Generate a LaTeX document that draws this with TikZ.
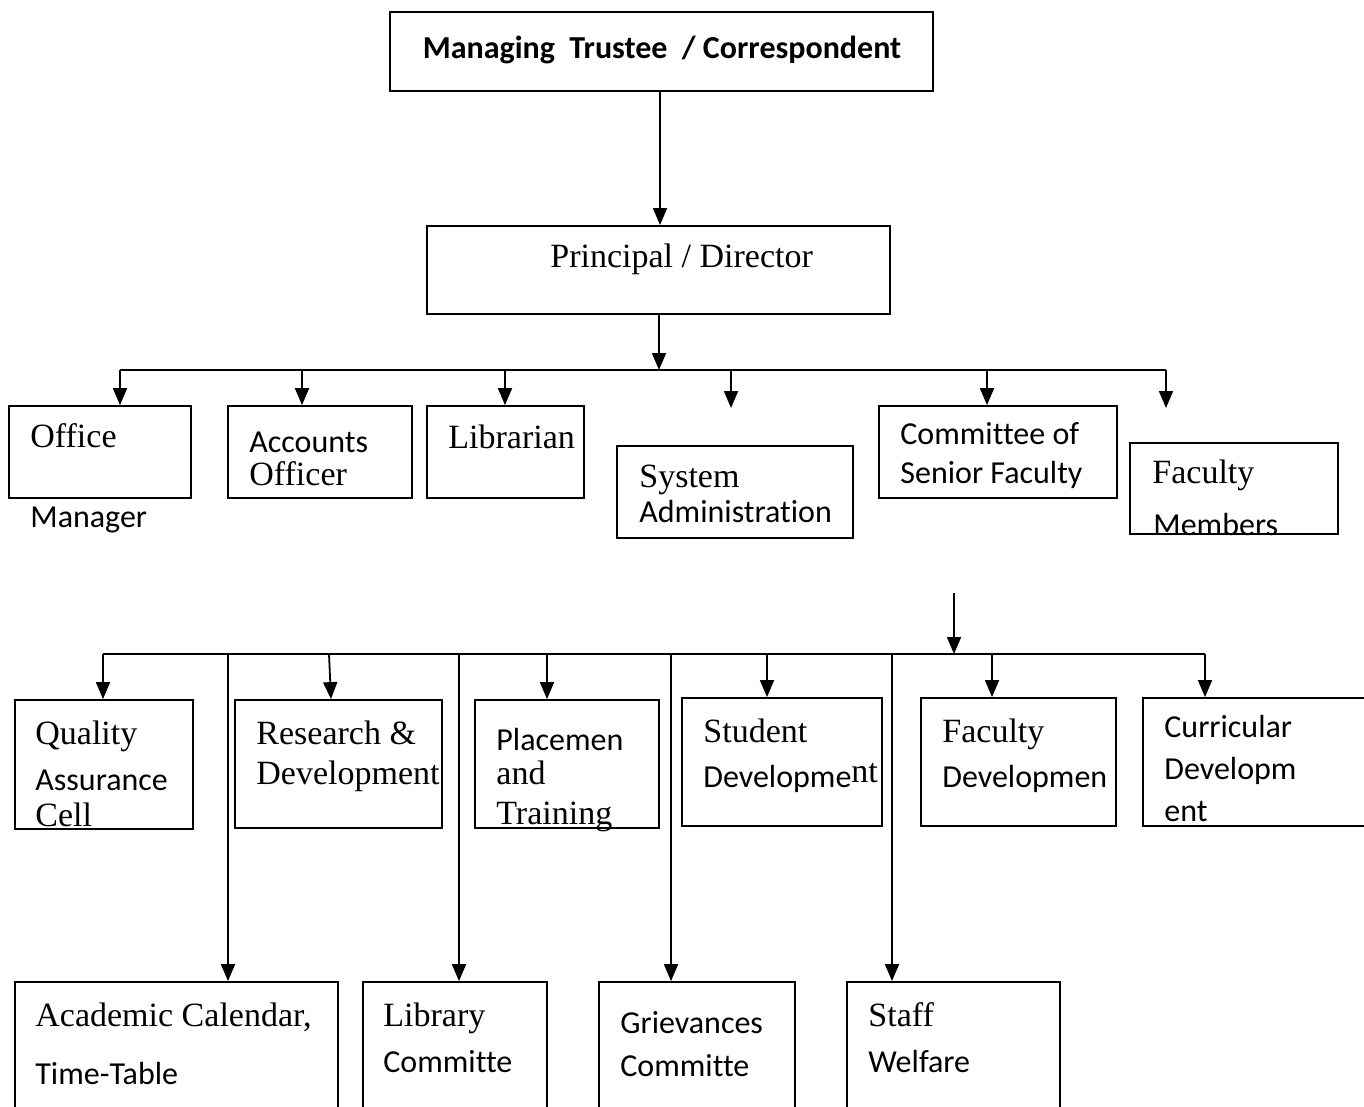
\documentclass[tikz,border=0pt]{standalone}
\usepackage{fontspec}
\setmainfont{Liberation Serif}
\newfontfamily\calfont[Ligatures=NoCommon]{Carlito}
\usetikzlibrary{fit,arrows.meta}
\begin{document}
\begin{tikzpicture}[x=0.5pt,y=-0.5pt,
  box/.style={draw,line width=0.9pt,inner sep=0pt,rectangle},
  arr/.style={line width=0.9pt,-{Triangle[width=7pt,length=8.5pt]}},
  conn/.style={line width=0.9pt},
  serif/.style={inner sep=0pt,anchor=base west,font=\fontsize{17}{20}\selectfont},
  sans/.style={inner sep=0pt,anchor=base west,font=\calfont\fontsize{16}{19}\selectfont}]
\useasboundingbox (0,0) rectangle (1364,1107);
% boxes
\node[box,fit={(390,12) (933,91)}] (top) {};
\node[box,fit={(427,226) (890,314)}] (principal) {};
\node[box,fit={(9,406) (191,498)}] (office) {};
\node[box,fit={(228,406) (412,498)}] (accounts) {};
\node[box,fit={(427,406) (584,498)}] (librarian) {};
\node[box,fit={(617,446) (853,538)}] (sysadmin) {};
\node[box,fit={(879,406) (1117,498)}] (committee) {};
\node[box,fit={(1130,443) (1338,534)}] (facmem) {};
\node[box,fit={(15,700) (193,829)}] (qac) {};
\node[box,fit={(235,700) (442,828)}] (rnd) {};
\node[box,fit={(475,700) (659,828)}] (place) {};
\node[box,fit={(682,698) (882,826)}] (student) {};
\node[box,fit={(921,698) (1116,826)}] (facdev) {};
\node[box,fit={(1143,698) (1400,826)}] (curr) {};
\node[box,fit={(15,982) (338,1140)}] (acad) {};
\node[box,fit={(363,982) (547,1140)}] (libc) {};
\node[box,fit={(599,982) (795,1140)}] (griev) {};
\node[box,fit={(847,982) (1060,1140)}] (staff) {};
% texts
\node[inner sep=0pt,anchor=base,font=\calfont\bfseries\fontsize{16}{19}\selectfont] (ttop) at (662,59) {Managing\ \ Trustee\ \ / Correspondent};
\node[serif] (tprin) at (550,267) {Principal / Director};
\node[serif] (toff) at (30,447) {Office};
\node[sans] (tman) at (30,527) {Manager};
\node[sans] (tacc1) at (249,452) {Accounts};
\node[serif] (tacc2) at (249,485) {Officer};
\node[serif] (tlib) at (448,448) {Librarian};
\node[serif] (tsys1) at (639,487) {System};
\node[sans] (tsys2) at (639,522) {Administration};
\node[sans] (tcom1) at (900,444) {Committee of};
\node[sans] (tcom2) at (900,483) {Senior Faculty};
\node[serif] (tfm1) at (1152,483) {Faculty};
\node[sans] (tfm2) at (1153,535) {Members};
\node[serif] (tq1) at (35,744) {Quality};
\node[sans] (tq2) at (35,790) {Assurance};
\node[serif] (tq3) at (35,826) {Cell};
\node[serif] (tr1) at (256,744) {Research \&};
\node[serif] (tr2) at (256,784) {Development};
\node[sans] (tp1) at (496,750) {Placemen};
\node[serif] (tp2) at (496,784) {and};
\node[serif] (tp3) at (496,824) {Training};
\node[serif] (ts1) at (703,742) {Student};
\node[sans] (ts2) at (703,787) {Developme{\rmfamily\fontsize{17}{20}\selectfont\raisebox{2.5pt}{nt}}};
\node[serif] (tf1) at (942,742) {Faculty};
\node[sans] (tf2) at (942,787) {Developmen};
\node[sans] (tc1) at (1164,737) {Curricular};
\node[sans] (tc2) at (1164,779) {Developm};
\node[sans] (tc3) at (1164,821) {ent};
\node[serif] (ta1) at (35,1026) {Academic Calendar,};
\node[sans] (ta2) at (35,1084) {Time-Table};
\node[serif] (tl1) at (383,1026) {Library};
\node[sans] (tl2) at (383,1072) {Committe};
\node[sans] (tg1) at (620,1033) {Grievances};
\node[sans] (tg2) at (620,1076) {Committe};
\node[serif] (tw1) at (868,1026) {Staff};
\node[sans] (tw2) at (868,1072) {Welfare};
% first-level connectors
\coordinate (a0) at (660,91);
\draw[arr] (a0) -- (a0 |- principal.north);
\coordinate (bus1) at (659,370);
\draw[arr] (bus1 |- principal.south) -- (bus1);
\coordinate (b1) at (120,370);
\coordinate (b2) at (302,370);
\coordinate (b3) at (505,370);
\coordinate (b4) at (731,370);
\coordinate (b5) at (987,370);
\coordinate (b6) at (1166,370);
\draw[conn] (b1) -- (b6);
\draw[arr] (b1) -- (b1 |- office.north);
\draw[arr] (b2) -- (b2 |- accounts.north);
\draw[arr] (b3) -- (b3 |- librarian.north);
\coordinate (sysend) at (731,408);
\draw[arr] (b4) -- (sysend);
\draw[arr] (b5) -- (b5 |- committee.north);
\coordinate (fmend) at (1166,408);
\draw[arr] (b6) -- (fmend);
% second-level connectors
\coordinate (c0s) at (954,593);
\coordinate (c0) at (954,654);
\draw[arr] (c0s) -- (c0);
\coordinate (c1) at (103,654);
\coordinate (c2) at (329,654);
\coordinate (c3) at (547,654);
\coordinate (c4) at (767,654);
\coordinate (c5) at (992,654);
\coordinate (c6) at (1205,654);
\coordinate (d1) at (228,654);
\coordinate (d2) at (459,654);
\coordinate (d3) at (671,654);
\coordinate (d4) at (892,654);
\draw[conn] (c1) -- (c6);
\draw[arr] (c1) -- (c1 |- qac.north);
\draw[arr] (c2) -- (331,0 |- rnd.north);
\draw[arr] (c3) -- (c3 |- place.north);
\draw[arr] (c4) -- (c4 |- student.north);
\draw[arr] (c5) -- (c5 |- facdev.north);
\draw[arr] (c6) -- (c6 |- curr.north);
\draw[arr] (d1) -- (d1 |- acad.north);
\draw[arr] (d2) -- (d2 |- libc.north);
\draw[arr] (d3) -- (d3 |- griev.north);
\draw[arr] (d4) -- (d4 |- staff.north);
\end{tikzpicture}
\end{document}
